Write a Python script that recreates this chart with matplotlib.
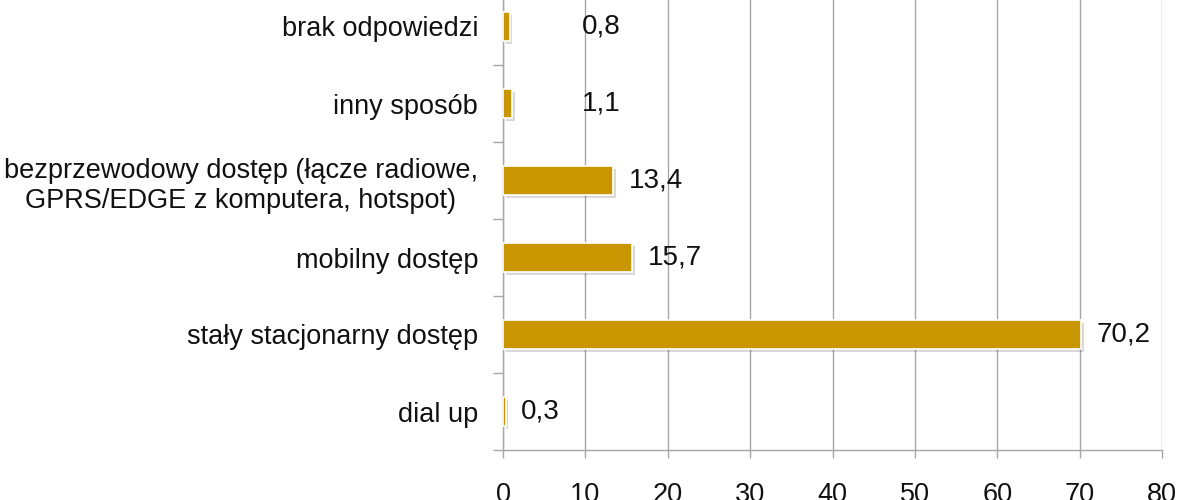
import matplotlib
matplotlib.use("Agg")
import matplotlib.pyplot as plt
import matplotlib.patheffects as pe
import numpy as np

# data, bottom to top as drawn
categories = [
    "dial up",
    "stały stacjonarny dostęp",
    "mobilny dostęp",
    "bezprzewodowy dostęp (łącze radiowe,\nGPRS/EDGE z komputera, hotspot)",
    "inny sposób",
    "brak odpowiedzi",
]
values = [0.3, 70.2, 15.7, 13.4, 1.1, 0.8]
# label offsets in points (small bars had their labels pushed further right)
label_offsets = [11, 11, 11, 11, 50, 52]
x_ticks = [0, 10, 20, 30, 40, 50, 60, 70, 80]

plt.rcParams["font.family"] = ["Liberation Sans", "DejaVu Sans"]

fig = plt.figure(figsize=(11.85, 5), dpi=100)
ax = fig.add_axes([0.4245, 0.1, 0.9806 - 0.4245, 0.924])

y = np.arange(len(categories))
bars = ax.barh(y, values, height=0.37, color="#C89600", edgecolor="white",
               linewidth=1.2, zorder=3)
for b in bars:
    b.set_path_effects([pe.SimplePatchShadow(offset=(2, -2), shadow_rgbFace="#000000",
                                             alpha=0.15), pe.Normal()])

for yi, v, off in zip(y, values, label_offsets):
    ax.annotate(f"{v:.1f}".replace(".", ","), xy=(v, yi), xytext=(off, 0),
                textcoords="offset points", va="center", ha="left",
                fontsize=20, color="#111111")

ax.set_xlim(0, 80)
ax.set_ylim(-0.5, len(categories) - 0.5)
ax.set_xticks(x_ticks)
ax.set_xticklabels([str(t) for t in x_ticks], fontsize=19.5, color="#111111")
ax.set_yticks(y)
ax.set_yticklabels(categories, fontsize=19.5, multialignment="center",
                   linespacing=1.25, color="#111111")
ax.set_yticks(np.arange(-0.5, len(categories), 1), minor=True)

ax.grid(axis="x", color="#A6A6A6", linewidth=1.0, zorder=0)
ax.set_axisbelow(True)
ax.tick_params(axis="y", which="major", length=0, pad=18)
ax.tick_params(axis="y", which="minor", length=7, color="#A6A6A6", width=1.0)
ax.tick_params(axis="x", length=6, color="#A6A6A6", width=1.0, pad=17)

for s in ["top", "right"]:
    ax.spines[s].set_visible(False)
for s in ["left", "bottom"]:
    ax.spines[s].set_color("#A6A6A6")
    ax.spines[s].set_linewidth(1.0)

fig.savefig("out.png", dpi=100)
